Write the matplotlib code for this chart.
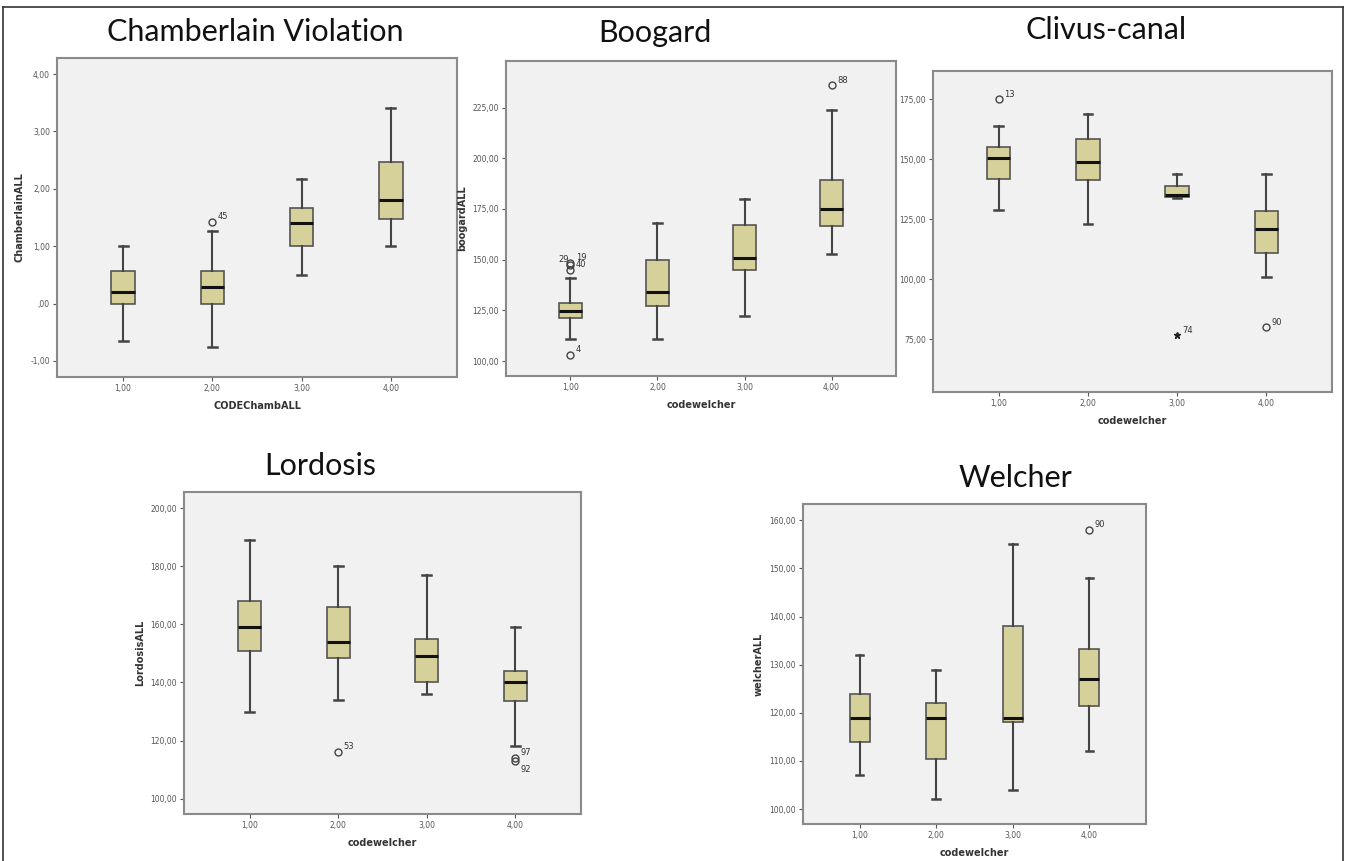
import matplotlib.pyplot as plt
from matplotlib.lines import Line2D

# --- Datos (5 paneles, 4 categorías cada uno) ---
categorias = [1, 2, 3, 4]
etiquetas_x = ['1,00', '2,00', '3,00', '4,00']

titulos = ['Chamberlain Violation', 'Boogard', 'Clivus-canal', 'Lordosis', 'Welcher']
ylabels = ['ChamberlainALL', 'boogardALL', '', 'LordosisALL', 'welcherALL']
xlabels = ['CODEChambALL', 'codewelcher', 'codewelcher', 'codewelcher', 'codewelcher']

# Chamberlain
cham_lo = [-0.65, -0.75, 0.50, 1.00]
cham_q1 = [0.00, 0.00, 1.01, 1.48]
cham_med = [0.20, 0.28, 1.40, 1.80]
cham_q3 = [0.56, 0.57, 1.66, 2.46]
cham_hi = [1.00, 1.26, 2.17, 3.40]
cham_out = [[], [1.42], [], []]
cham_out_lab = [[], ['45'], [], []]
cham_yticks = [-1, 0, 1, 2, 3, 4]

# Boogard
boog_lo = [111, 111, 122, 153]
boog_q1 = [121, 127, 145, 166.5]
boog_med = [124.8, 134, 151, 175]
boog_q3 = [128.8, 150, 167, 189.5]
boog_hi = [141, 168, 180, 224]
boog_out = [[103, 145, 147.5, 148.5], [], [], [236]]
boog_out_lab = [['4', '40', '29', '19'], [], [], ['88']]
boog_yticks = [100, 125, 150, 175, 200, 225]

# Clivus-canal
cliv_lo = [129, 123, 134, 101]
cliv_q1 = [142, 141.5, 134.4, 111]
cliv_med = [150.5, 149, 135, 121]
cliv_q3 = [155, 158.5, 139, 128.5]
cliv_hi = [164, 169, 144, 144]
cliv_out = [[175], [], [], [80]]
cliv_out_lab = [['13'], [], [], ['90']]
cliv_extremos = [[], [], [76.7], []]
cliv_ext_lab = [[], [], ['74'], []]
cliv_yticks = [75, 100, 125, 150, 175]

# Lordosis
lord_lo = [130, 134, 136, 118]
lord_q1 = [151, 148.5, 140, 133.5]
lord_med = [159, 154, 149, 140]
lord_q3 = [168, 166, 155, 144]
lord_hi = [189, 180, 177, 159]
lord_out = [[], [116], [], [114, 113]]
lord_out_lab = [[], ['53'], [], ['97', '92']]
lord_yticks = [100, 120, 140, 160, 180, 200]

# Welcher
welc_lo = [107, 102, 104, 112]
welc_q1 = [114, 110.5, 118, 121.5]
welc_med = [119, 119, 119, 127]
welc_q3 = [124, 122, 138, 133.2]
welc_hi = [132, 129, 155, 148]
welc_out = [[], [], [], [158]]
welc_out_lab = [[], [], [], ['90']]
welc_yticks = [100, 110, 120, 130, 140, 150, 160]

paneles = [
    (cham_lo, cham_q1, cham_med, cham_q3, cham_hi, cham_out, cham_out_lab, [], [], cham_yticks),
    (boog_lo, boog_q1, boog_med, boog_q3, boog_hi, boog_out, boog_out_lab, [], [], boog_yticks),
    (cliv_lo, cliv_q1, cliv_med, cliv_q3, cliv_hi, cliv_out, cliv_out_lab, cliv_extremos, cliv_ext_lab, cliv_yticks),
    (lord_lo, lord_q1, lord_med, lord_q3, lord_hi, lord_out, lord_out_lab, [], [], lord_yticks),
    (welc_lo, welc_q1, welc_med, welc_q3, welc_hi, welc_out, welc_out_lab, [], [], welc_yticks),
]

# --- Layout (pixeles de la imagen original) ---
W, H = 1346, 861
cajas_px = [(57, 58, 457, 377), (506, 61, 896, 376), (933, 71, 1332, 392),
            (184, 492, 581, 814), (803, 504, 1146, 824)]
ylims = [(-1.28, 4.28), (92.6, 248), (53.1, 186.8), (94.7, 205.6), (96.9, 163.4)]
titulo_px = [(255, 32), (655, 33), (1106, 30), (320, 466), (1015, 478)]

# desplazamientos de las etiquetas de atípicos (puntos)
offsets = {('1', '29'): (-9, 2), ('3', '92'): (4, -8)}

FILL = '#d6d19a'
EDGE = '#555555'
TITLE_FONT = ['Liberation Sans Narrow', 'Lato', 'DejaVu Sans']


def fmt(v):
    s = f'{v:.2f}'.replace('.', ',')
    if s.startswith('0,'):
        s = s[1:]
    return s


fig = plt.figure(figsize=(W / 100, H / 100), dpi=100)
fig.patch.set_facecolor('white')

for i, p in enumerate(paneles):
    lo, q1, med, q3, hi, out, out_lab, ext, ext_lab, yt = p
    x0, y0, x1, y1 = cajas_px[i]
    ax = fig.add_axes([x0 / W, 1 - y1 / H, (x1 - x0) / W, (y1 - y0) / H])
    ax.set_facecolor('#f1f1f1')

    stats = []
    for k in range(4):
        stats.append({'whislo': lo[k], 'q1': q1[k], 'med': med[k],
                      'q3': q3[k], 'whishi': hi[k], 'fliers': []})
    ax.bxp(stats, positions=categorias, widths=0.26, patch_artist=True,
           showfliers=False, capwidths=0.1,
           boxprops=dict(facecolor=FILL, edgecolor=EDGE, linewidth=1.2),
           medianprops=dict(color='#111111', linewidth=2.2),
           whiskerprops=dict(color='#444444', linewidth=1.5),
           capprops=dict(color='#444444', linewidth=1.8))

    for k in range(4):
        for v, lab in zip(out[k], out_lab[k]):
            ax.plot(categorias[k], v, 'o', mfc='none', mec='#444444', ms=5, mew=1)
            dx, dy = offsets.get((str(i), lab), (4, 2))
            ax.annotate(lab, (categorias[k], v), xytext=(dx, dy), textcoords='offset points',
                        fontsize=6, color='#333333')
        for v, lab in zip(ext[k] if ext else [], ext_lab[k] if ext else []):
            ax.plot(categorias[k], v, '*', color='#222222', ms=5)
            ax.annotate(lab, (categorias[k], v), xytext=(4, 2), textcoords='offset points',
                        fontsize=6, color='#333333')

    ax.set_xlim(0.26, 4.74)
    ax.set_ylim(*ylims[i])
    ax.set_xticks(categorias)
    ax.set_xticklabels(etiquetas_x)
    ax.set_yticks(yt)
    ax.set_yticklabels([fmt(v) for v in yt])
    ax.tick_params(labelsize=5.5, colors='#555555', length=3, width=0.8, pad=2)
    for s in ax.spines.values():
        s.set_color('#8a8a8a')
        s.set_linewidth(1.5)
    ax.set_xlabel(xlabels[i], fontsize=7, fontweight='bold', color='#333333', labelpad=6)
    if ylabels[i]:
        ax.set_ylabel(ylabels[i], fontsize=7, fontweight='bold', color='#333333', labelpad=4)

    tx, ty = titulo_px[i]
    fig.text(tx / W, 1 - ty / H, titulos[i], ha='center', va='center',
             fontsize=22, family=TITLE_FONT, color='#111111')

# Marco de la figura
for xs, ys in [((3 / W, 3 / W), (0, 1 - 7 / H)),
               ((3 / W, 1343 / W), (1 - 7 / H, 1 - 7 / H)),
               ((1343 / W, 1343 / W), (0, 1 - 7 / H))]:
    fig.add_artist(Line2D(xs, ys, color='#333333', linewidth=1.2))

plt.savefig('out.png', dpi=100)
